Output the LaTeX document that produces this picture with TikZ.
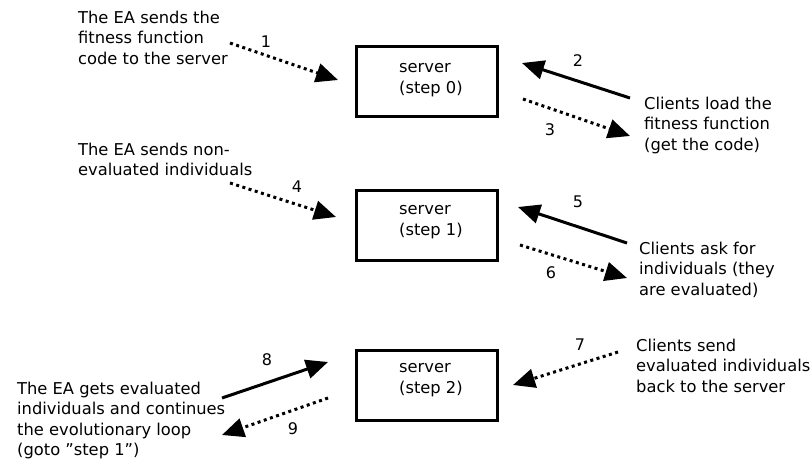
\documentclass[tikz,border=0pt]{standalone}
\usepackage{fontspec}
\setmainfont{DejaVu Sans}
\usetikzlibrary{arrows.meta}
\begin{document}
\begin{tikzpicture}[x=1pt,y=-1pt,
  txt/.style={font=\fontsize{16.3}{20.5}\selectfont, inner sep=0pt, align=left,
    anchor=north west, execute at begin node=\strut},
  num/.style={font=\fontsize{16}{20.5}\selectfont, inner sep=0pt},
  serverbox/.style={draw, line width=3pt, minimum width=141pt, minimum height=70pt,
    anchor=north west, inner sep=0pt},
  tip/.style={-{Triangle[length=22pt,width=19pt]}},
  solidarrow/.style={tip, line width=3pt},
  dotarrow/.style={tip, line width=3pt, dash pattern=on 3pt off 3.5pt}]
\useasboundingbox[fill=white] (0,0) rectangle (812,464);

% servers
\node[serverbox] (s0) at (354.5,44.5) {};
\node[serverbox] (s1) at (354.5,188.5) {};
\node[serverbox] (s2) at (354.5,348.5) {};
\node[txt] (s0t) at (399,63.2) {server\\(step 0)};
\node[txt] (s1t) at (399,205.2) {server\\(step 1)};
\node[txt] (s2t) at (399,363.2) {server\\(step 2)};

% descriptions
\node[txt] (ea1) at (78,10.7) {The EA sends the\\fitness function\\code to the server};
\node[txt] (cl1) at (644,96.7) {Clients load the\\fitness function\\(get the code)};
\node[txt] (ea2) at (78,142.7) {The EA sends non-\\evaluated individuals};
\node[txt] (cl2) at (639,241.7) {Clients ask for\\individuals (they\\are evaluated)};
\node[txt] (cl3) at (636,338.7) {Clients send\\evaluated individuals\\back to the server};
\node[txt] (ea3) at (17,381.7) {The EA gets evaluated\\individuals and continues\\the evolutionary loop\\(goto \symbol{34}step 1\symbol{34})};

% arrow ends
\coordinate (a1s) at (230,43);  \coordinate (a1e) at (338,80);
\coordinate (a2s) at (630,98);  \coordinate (a2e) at (522,63);
\coordinate (a3s) at (523,99);  \coordinate (a3e) at (630,136);
\coordinate (a4s) at (230,183); \coordinate (a4e) at (336,217);
\coordinate (a5s) at (627,243); \coordinate (a5e) at (518,207);
\coordinate (a6s) at (520,245); \coordinate (a6e) at (627,278);
\coordinate (a7s) at (618,352); \coordinate (a7e) at (513,385);
\coordinate (a8s) at (222,398); \coordinate (a8e) at (328,362);
\coordinate (a9s) at (328,398); \coordinate (a9e) at (222,435);

\draw[dotarrow] (a1s) -- (a1e);
\draw[solidarrow] (a2s) -- (a2e);
\draw[dotarrow] (a3s) -- (a3e);
\draw[dotarrow] (a4s) -- (a4e);
\draw[solidarrow] (a5s) -- (a5e);
\draw[dotarrow] (a6s) -- (a6e);
\draw[dotarrow] (a7s) -- (a7e);
\draw[solidarrow] (a8s) -- (a8e);
\draw[dotarrow] (a9s) -- (a9e);

% step numbers
\node[num] (n1) at (266,42) {1};
\node[num] (n2) at (578,61) {2};
\node[num] (n3) at (550,130) {3};
\node[num] (n4) at (297,187) {4};
\node[num] (n5) at (578,202) {5};
\node[num] (n6) at (551,273) {6};
\node[num] (n7) at (580,345) {7};
\node[num] (n8) at (267,360) {8};
\node[num] (n9) at (293,429) {9};
\end{tikzpicture}
\end{document}
